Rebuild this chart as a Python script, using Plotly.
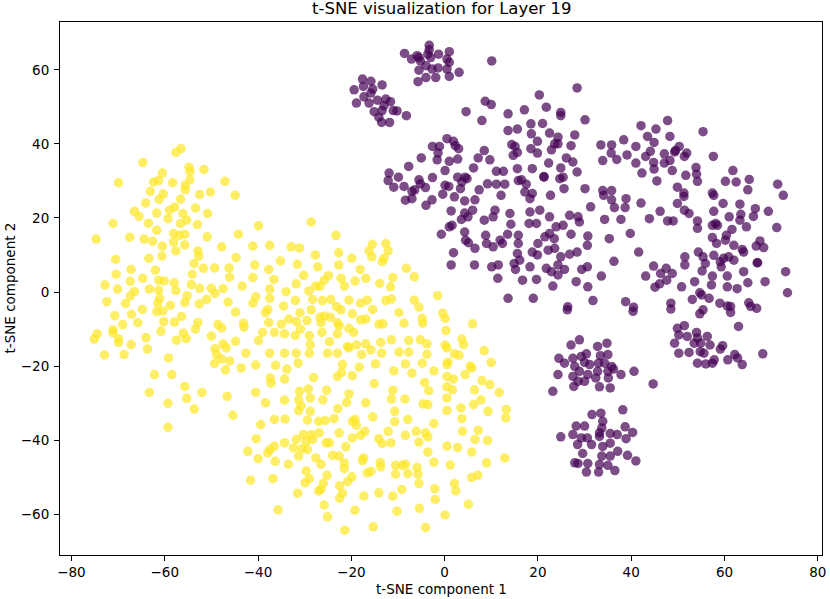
import plotly.graph_objects as go

# t-SNE coordinates, class 1 (yellow) and class 0 (purple)
YELLOW_UPPER = [
    (-57.6, 37.7), (-56.5, 38.7), (-64.7, 35), (-54.8, 33.7), (-54.6, 32.5), (-54.6, 30.3),
    (-51.6, 33.1), (-69.9, 29.5), (-62.4, 29.7), (-61.3, 30.1), (-60.5, 32.1), (-58.3, 29.5),
    (-55.6, 28.8), (-55.6, 27.6), (-47.1, 29.9), (-50.2, 27), (-52.5, 26.3), (-44.9, 26.1),
    (-63.1, 27.2), (-60.3, 26.5), (-61.2, 25), (-56.6, 25.1), (-64.1, 24), (-66.5, 21.8),
    (-65.5, 20.4), (-61.7, 21.3), (-59, 22.1), (-57.9, 22.9), (-59.3, 19.8), (-56.1, 21.2),
    (-55.3, 19.4), (-56.6, 18.5), (-53.4, 22.7), (-50.8, 21.2), (-53, 18.2), (-71.1, 18.5),
    (-63.5, 18.6), (-61.7, 16.7), (-74.7, 14.3), (-67.5, 14.8), (-64.4, 14.3), (-62.6, 13.7),
    (-58.1, 15.8), (-56.9, 15.3), (-55.7, 15.6), (-58.1, 13.5), (-60.5, 12.4), (-55.7, 12.7),
    (-57.6, 11.1), (-50.9, 14.9), (-44.2, 15.6), (-47.8, 12.2), (-41.1, 12.4), (-39.9, 17.9),
    (-52.9, 11.1), (-52.7, 9.7), (-53.7, 7.7), (-60.6, 9.7), (-63.4, 9.1), (-70.5, 8.8),
    (-44.7, 9.3), (-40.7, 7.3), (-51.7, 6.4), (-49.3, 6.5), (-46.2, 6.5), (-62, 5.9),
    (-67.2, 6.1), (-70.4, 4.8), (-54.1, 4.8),
]
YELLOW_LEFT = [
    (-64.7, 3.7), (-67.4, 2.9), (-72.8, 1.9), (-70.1, 0.8), (-66.5, 0.1), (-67.4, -1.1),
    (-63.3, 0.8), (-61.3, 3.2), (-60.1, 3), (-58, 2.5), (-57.6, 0.4), (-61.3, 0.5),
    (-61.1, -1.7), (-61.5, -3), (-61.7, -5.3), (-60.4, -5.1), (-72.4, -2.6), (-68.4, -3.1),
    (-64.8, -4.7), (-67.1, -6), (-70.7, -6.4), (-58.8, -3.6), (-55.2, -1), (-55.7, -2.8),
    (-54.3, 2), (-52.5, 1), (-50, 1), (-49.2, -0.4), (-47.5, 0.9), (-46.1, 4), (-43.4, 1.6),
    (-52.6, -3.2), (-51, -2), (-46.4, -2.7), (-41.1, -3), (-40.5, -1.3), (-44.8, -5.4),
    (-69, -8.8), (-65.8, -8.3), (-60.2, -8), (-60.8, -10.6), (-57.9, -8.1), (-56.4, -6.6),
    (-52.9, -8.2), (-53.4, -10), (-48.6, -8.8), (-47.8, -9.7), (-43.1, -8.4), (-43, -9.5),
    (-74.5, -11.3), (-75.1, -12.7), (-71.1, -10.2), (-71.1, -11), (-69.9, -12.6), (-69.9, -13.6),
    (-67.2, -14.2), (-64, -12.3), (-63.7, -15.4), (-72.9, -17), (-68.7, -16.9), (-57.5, -13),
    (-55.4, -12.6), (-56, -11.1), (-50, -11.9), (-59.2, -17.8), (-49.2, -15.3), (-47.5, -14),
    (-46.8, -15.1), (-48.9, -16.9), (-47.8, -18.1), (-46.1, -18.6), (-49.3, -19.3), (-47, -21),
    (-44.8, -13.3), (-42.6, -16.5), (-43.6, -20.5), (-40.5, -19.7), (-39.9, -13.1), (-62.2, -22.3),
    (-58.5, -22.3), (-63.3, -27.1), (-55.7, -25.5), (-55.3, -28.7), (-52, -27.1), (-59.3, -30),
    (-53.7, -31.6), (-46.6, -28.2), (-40.5, -27.1), (-45.4, -33.3), (-59.3, -36.5),
]
YELLOW_CENTER = [
    (-28.6, 18.9), (-23.3, 15.3), (-37.5, 12.6), (-32.9, 12.2), (-31.1, 11.9), (-27.7, 10),
    (-22.7, 10.6), (-19.9, 9.1), (-15.5, 12.9), (-12.6, 13.1), (-16.2, 11.1), (-15.6, 9.5),
    (-12.1, 11.1), (-13, 9.1), (-13.4, 8.2), (-35.2, 8.4), (-31.6, 7.5), (-37.7, 6.1),
    (-27.2, 6.8), (-22.7, 7.3), (-18.1, 6.1), (-8.2, 6.4), (-41.1, 3.9), (-36.6, 3.4),
    (-30.2, 4.5), (-25.8, 3.2), (-24.9, 4.4), (-26.7, 1.6), (-27.6, 1.6), (-22.2, 3.7),
    (-21.5, 1.6), (-19.2, 3), (-16.9, 3.7), (-13.9, 2.3), (-11.1, 3.9), (-11.6, 1.4),
    (-6.5, 4.1), (-1.5, -1), (-37.5, 0.8), (-34, 0.1), (-31.8, 2.2), (-29.1, 0.3),
    (-37.5, -1.7), (-37.9, -4.7), (-38.4, -5.6), (-34.5, -3.8), (-32, -2.3), (-31, -5.6),
    (-28.3, -2), (-28.6, -4.8), (-26.2, -2.3), (-24.4, -2), (-23.2, -3.9), (-22.2, -4.8),
    (-20.5, -2.2), (-18, -3), (-16.6, -2.2), (-15.4, -4.7), (-12.6, -2.3), (-11.4, -1.9),
    (-6.5, -2.2), (-5.5, -4.1), (-9.8, -5.5), (-19.8, -5.9), (-18, -7.5), (-16.9, -7.3),
    (-37.7, -8.2), (-35, -8.7), (-33.4, -7.3), (-31.8, -8), (-29.5, -7.7), (-30.9, -10),
    (-26.7, -6.8), (-25.8, -6.5), (-26.5, -8.3), (-24.5, -6.8), (-23, -8.3), (-22.6, -9.1),
    (-14.1, -8.7), (-13.2, -8.6), (-8.7, -8.4), (-4.8, -7.1), (-4.7, -8.4), (-0.4, -5.7),
    (0.1, -7.1), (0.3, -10.4), (-39, -10.9), (-36.5, -10.9), (-34.3, -11.3), (-32, -11.7),
    (-29, -11.8), (-28.8, -14.2), (-26.3, -10.9), (-24.7, -13.4), (-23, -11.3), (-20.5, -9.8),
    (-19.5, -10.9), (-20.8, -14.7), (-18.9, -14.3), (-16.9, -14), (-13.7, -13.6), (-11.4, -12.9),
    (-7.7, -13.1), (-5.2, -12.9), (-3.8, -14), (0.1, -14.3), (-15.8, -15.6), (-13.5, -16.5),
    (-17.8, -16.9), (-20.5, -15.1), (-37.5, -16.5), (-34.3, -16.5), (-31.8, -16.5), (-29, -16.5),
    (-25.1, -16.5), (-23, -16.5), (-9.8, -16.2), (-7.7, -16.2), (-3.8, -16.8),
    (6, -8.6), (3.7, -12.7), (4.1, -14.2), (0.5, -15.1), (2.1, -16.7), (3.1, -17.1),
    (8.5, -15.8), (0.7, -18.9), (0.5, -19.6), (5.5, -20),
]
YELLOW_LOWER = [
    (-36.2, -19.8), (-33.8, -20.8), (-37.4, -23.2), (-37.2, -24.6), (-34.3, -23.5), (-31.4, -19.2),
    (-21.9, -19.6), (-22.1, -21.7), (-23, -22.8), (-19.8, -22.6), (-18.3, -20.3), (-14.8, -19.4),
    (-28.1, -23.1), (-10.9, -21.3), (-8.4, -19.4), (-7, -21.9), (-4.8, -19.2), (-2.3, -21.3),
    (-4.3, -24.4), (-3.4, -26.6), (-15.1, -24.7), (0.5, -22.8), (1.9, -23.5), (0.5, -25.6),
    (1.7, -26.4), (0.5, -28.6), (4.4, -22.3), (5.8, -20.5), (8, -23.9), (9.7, -25), (10, -19),
    (6.4, -26.4), (7.8, -29.1), (6.2, -30.4), (11.7, -27.1), (-38.4, -29.9), (-39.4, -35.8),
    (-34.3, -29.2), (-31.1, -26.8), (-29.2, -26.2), (-28.8, -28.6), (-31.3, -29.1), (-30.8, -30.7),
    (-31.3, -32), (-28.8, -32.2), (-26.1, -29.1), (-25.3, -26.5), (-22.9, -31.5), (-21, -29.8),
    (-20.5, -27.5), (-16.9, -29.9), (-11.4, -28.9), (-11.1, -26.5), (-8.5, -28.9), (-10.7, -32.2),
    (-10.7, -35), (-7.9, -34.4), (-15.4, -33.7), (-4.6, -30.2), (-3.6, -30.4), (0.5, -32),
    (3.5, -31.3), (9.3, -32.2), (3.7, -34.2), (3.8, -37.6), (13.2, -31.7), (13.1, -34),
    (-36.5, -34.4), (-34.2, -34.3), (-29.4, -34.6), (-27, -34.9), (-25.6, -34.7), (-23.7, -34.2),
    (-19.8, -34.9), (-19.2, -34.4), (-18.9, -36), (-17.1, -37.6), (-19.8, -39.4), (-18, -38.7),
    (-12.1, -37.6), (-14.1, -39.6), (-13.4, -40.9), (-11.5, -40.7), (-8.4, -38.7), (-6.1, -37.6),
    (-4.1, -38), (-5.5, -40.5), (-3.6, -39.1), (-2.3, -35.5), (0.5, -41.6), (2.8, -42),
    (-3.6, -43.2), (-2.3, -45.9), (1.2, -46.7), (5.8, -43.2), (6.5, -39.8), (9.2, -40.1),
    (7.2, -37.3), (12.9, -44.8), (9, -46.1), (7.1, -49.5), (5.8, -50.1), (-40.4, -39.6),
    (-42.2, -43), (-40, -45), (-37.9, -43.4), (-37.4, -42.5), (-36.5, -41.6), (-36.3, -45.7),
    (-36.8, -50.4), (-41.6, -50.8), (-34.3, -40.7), (-32.4, -42.1), (-31.8, -39.8), (-30.3, -38.5),
    (-28.6, -38.5), (-26.9, -38), (-29.7, -40.3), (-28.3, -39.8), (-30.6, -42.3), (-29.4, -42.5),
    (-25.4, -40.7), (-24.7, -40.7), (-22.6, -38), (-21.2, -41.8), (-24, -44.1), (-22.6, -44.3),
    (-21.5, -46.1), (-21.5, -47.7), (-27.6, -44.8), (-26.5, -46.5), (-33.5, -46.5), (-31.3, -44.3),
    (-19.9, -49.9), (-20.8, -51.2), (-25.2, -49.5), (-26, -51.6), (-26.5, -53.2), (-27, -53.7),
    (-21.9, -54.3), (-22.5, -55.7), (-22.5, -52.3), (-17.4, -44.8), (-17.6, -45.5), (-16.6, -48.8),
    (-15.8, -48.4), (-13.8, -46), (-13.7, -47.2), (-10.5, -46.8), (-9.1, -46.8), (-8.4, -46.5),
    (-5.9, -47.4), (-5.7, -49.2), (-5.5, -51.7), (-10.5, -49.2), (-7.9, -49), (-14.1, -54.2),
    (-17.3, -55.1), (-9.2, -53.3), (-11.1, -55.1), (-2.1, -53.1), (-2, -56), (2.1, -51.7),
    (2.4, -53.7), (5.1, -57.3), (0.1, -60.2), (-5.4, -58.4), (-10.2, -59.2), (-15.3, -63.4),
    (-21.4, -64.3), (-25.1, -60.7), (-25.8, -57.5), (-19.2, -58.9), (-35.7, -58.8), (-31.5, -54.3),
    (-29, -50.4), (-4.1, -63.6), (-29.7, -48.3), (-29.9, -51.5),
]

PURPLE_TOP = [
    (-8.6, 64.4), (-7.1, 62.9), (-5.5, 63.3), (-5.2, 62.4), (-5.9, 63.8), (-3.3, 66.6),
    (-3.3, 65.4), (-3.6, 64.2), (-3, 63.3), (-1.3, 64.2), (1, 64.9), (0.5, 62.9), (1, 62),
    (-5.5, 59.9), (-4, 61.1), (-2.7, 60.2), (-1.4, 60.5), (0.5, 60.2), (3.1, 59.3), (-5.7, 56.8),
    (-4, 57.9), (-1.9, 57.9), (1, 58.2), (10.1, 62.4),
    (-17.6, 57.5), (-15.8, 56.9), (-19.4, 54.6), (-17.4, 55.5), (-15.4, 54.8), (-13.4, 55.9),
    (-17.3, 52.7), (-15.8, 53.7), (-18.9, 51), (-16.2, 51), (-14.4, 51.8), (-12.6, 52.1),
    (-11.6, 51.4), (-13, 50.3), (-13.4, 49), (-15.1, 48.7), (-11, 49), (-10.2, 48.9),
    (-8.2, 47.6), (-14.1, 47.2), (-13.5, 45.8), (-11.8, 45.8),
    (4.6, 48.7), (8, 46.3), (8.7, 51.5), (10, 50.6),
]
PURPLE_MAIN_LEFT = [
    (20.3, 53.2), (28.4, 55.1), (21.8, 49.9), (17.1, 49.2), (13.6, 48.1), (24.9, 48.5),
    (24.9, 47.6), (30.1, 46.5), (18.5, 45.4), (21, 45.5), (15.6, 44), (13.6, 43.6),
    (18.6, 42.7), (22.5, 42.9), (24.3, 41.8), (27.9, 42.4), (19.9, 40.7), (23.6, 40), (24.3, 40),
    (18.5, 38.7), (22.9, 38.4), (27.1, 39.5), (14.4, 39.8), (15.1, 39.3), (14.7, 36.9), (15.6, 37.7),
    (19.9, 37.5), (22.3, 34.8), (26.1, 36.2), (27.5, 35.1), (24.9, 33.5), (28.4, 32.4),
    (18.8, 33.3), (15.6, 33.3), (21.3, 31.2), (24.7, 30.6), (25.4, 31),
    (-2.6, 39.3), (-1.1, 39.3), (-1.4, 37.5), (-1.6, 35.7), (0.5, 41.4), (1.9, 40.7), (2.3, 39.5),
    (3, 38.7), (2.8, 35.9), (1, 35.3), (0.1, 32.8), (-5, 36.2), (-7.7, 33.9),
    (-11.9, 32.1), (-12.1, 30.1), (-10.9, 28.3), (-9.9, 31), (-8.7, 28.5), (-7, 27.2),
    (-5.5, 30.3), (-5.2, 29.2), (-6.4, 27.6), (-4.1, 28.2), (-2.6, 30.9), (-8.4, 24.8),
    (-7, 25.2), (-4, 23.4), (-2.7, 24.9), (-0.4, 26.4), (0.1, 28.8), (0.9, 28.5), (2.1, 25.7),
    (2.8, 31), (4.4, 31), (4.8, 30.6), (3.7, 29.7), (3.4, 27.9), (6.2, 33.5), (7.2, 36.2),
    (8.5, 38.2), (9.7, 35.7), (11.1, 32.6), (12.6, 32.6), (9.2, 29.2), (11.1, 29.1),
    (12.9, 29.1), (12.1, 26.1), (7.4, 27.6), (6.5, 24.9), (4.3, 24.6), (1.4, 21.9),
    (1.6, 18), (1, 17.6), (-0.7, 15.6), (4.3, 21.3), (5, 20.3), (6, 22.1), (3.6, 19.6),
    (4.3, 16.2), (4.5, 14), (5.1, 13.3), (6.5, 11.8), (1.9, 10.6), (1.4, 7.3), (6.4, 7.3),
    (8.8, 15.3), (9, 13.1), (10.8, 22.1), (10.4, 20.3), (8.5, 19.4), (10.4, 12.2), (11.9, 14),
    (12.4, 13.1), (13.5, 15.6), (14.2, 18.3), (14, 21.2), (15.8, 15.3), (15.8, 13.1),
    (15.6, 10.4), (16.1, 8.6), (14.9, 7.7), (11.5, 7.3), (10.1, 6.8), (11.4, 3.7), (15.2, 6.1),
    (16.7, 3.2), (18.3, 6.8), (18.8, 10.8), (20, 13.1), (19.9, 10), (21.5, 14.9), (22.5, 15.8),
    (23.5, 14.4), (22.2, 11.3), (23.6, 11.8), (24.9, 9.5), (25.7, 6.1), (24.3, 7.3), (21.8, 6.4),
    (22.9, 5.5), (24.3, 4.6), (23.2, 1.6), (19.7, 3.4), (19, -1.7), (13.6, -1.7), (18.3, 21.6),
    (18.1, 18.5), (20.4, 22.1), (19.7, 18.5), (22.5, 20.3), (23.9, 17.6), (25.4, 18),
    (26.8, 20.7), (27.1, 15.6), (28.9, 18.9), (28.6, 20.3), (30.7, 15.1), (30.6, 12.6),
    (28.4, 10.8), (26.8, 10.2), (29.4, 6.1), (30.6, 6.8), (28.2, 2.8), (30.7, 1.4), (31.8, -2.3),
    (26.4, -4), (31.3, 23), (30.1, 27.9), (25.6, 27.9), (22.7, 26.1), (17.2, 27), (18.8, 26.6),
    (18.3, 25.2), (15.8, 30.1), (16.5, 30.3), (17.5, 29.1), (21.3, 31),
    (26.3, -4.8), (40.4, -5.2),
]
PURPLE_MAIN_RIGHT = [
    (42.1, 44.9), (45.3, 44), (47.8, 46.3), (43.5, 42), (44.9, 40.4), (48.3, 42), (55.4, 43.3),
    (38.4, 41.1), (35.8, 39.7), (33.5, 39.7), (35.7, 37.5), (33.9, 35.5), (36.9, 35.8), (39.1, 37),
    (41, 39.3), (41, 34.8), (42.3, 32.1), (43.1, 36.6), (44.1, 38), (44.8, 35), (44.9, 33.2),
    (47.1, 37.3), (48.3, 35.5), (47.1, 34.8), (48.8, 32.8), (49.5, 38.2), (50.3, 39.3),
    (49.3, 37.8), (51.9, 37.5), (51.4, 36.6), (51.7, 31.5), (53.9, 33.6), (54, 31.8), (54.2, 29.9),
    (57.6, 36.6), (45.5, 30), (49.9, 28.3), (51.3, 26.7),
    (61.8, 32.8), (60.2, 29.9), (62.5, 29.7), (65.3, 30.4), (65, 27.6), (71.4, 29.1), (72.6, 26.1),
    (33.9, 27.4), (34.1, 26.1), (35.8, 27.4), (35.8, 24.9), (38.9, 25.2), (36.4, 22.8),
    (38.7, 22.8), (34.3, 19.6), (37.8, 19.6),
    (42.1, 24), (43.9, 19.8), (46.2, 21.8), (47.8, 19.2), (49, 19.2), (49.9, 23.9), (51.4, 22.1),
    (51.3, 25.8), (57.4, 26.7), (57.7, 26.1), (59.7, 23.9), (63.3, 23.7), (66.6, 22.5),
    (69.4, 21.8), (66.2, 20.4),
    (52.4, 21.2), (54.2, 19.2), (54.2, 17.2), (57.7, 21.8), (58.1, 18.5), (57.4, 18), (58.5, 18),
    (61, 20.3), (63.5, 21), (63.3, 19.4), (64.7, 17.6), (61.6, 16.9), (60.4, 15.3), (57.4, 14.7),
    (58.3, 13.1), (60.2, 14), (62, 12.6), (63.8, 11.5), (64.1, 10.8), (66.8, 12.4), (67.6, 13.8),
    (68.4, 12), (71.2, 17.4), (67, 7.9),
    (35.3, 14.4), (39.8, 15.8), (41.6, 10.8), (36.3, 8.3), (33.6, 4.3), (38.8, -2.6), (40.5, -4.1),
    (44.8, 7), (43.1, 4.3), (46.3, 5), (47.5, 6.4), (48.8, 5), (46.1, 2.2), (45.1, 1.3),
    (47.6, 3.2), (50.8, 1.4), (51.5, 9.5), (51.5, 7.3), (54.4, 10.8), (55.4, 9.5), (55.9, 7.7),
    (55.2, 5.7), (57.7, 9.9), (59.1, 8.2), (59.3, 6.8), (59.8, 9.1), (60.9, 9.5), (62, 8.6),
    (60.6, 4.3), (57.4, 4.3), (53.6, 2.8), (54.7, -0.2), (55.1, -0.8), (56.7, -1.7), (53.1, -2),
    (48.5, -3), (48.5, -4.6), (55.4, -4.8), (54.7, -5.9), (59, -3), (60.6, -3.8), (61.3, -3.9),
    (65.2, -2.9), (65.6, -3.9), (66.9, -4.4), (64.1, 5.5), (65, 2.5), (67.1, 7.9), (68.7, 2.8),
    (73.1, 5.5), (73.5, -0.2), (62.7, 0.9), (60.6, 1.4), (57.2, 1.9), (61.3, -5.5),
]
PURPLE_SATELLITES = [
    (49.9, -9.8), (51.4, -9.1), (50.2, -11.6), (49.3, -13.8), (50.2, -16.5), (52.4, -16.3),
    (52, -12), (54, -10.9), (54.2, -12.4), (53.5, -13.8), (54.9, -13.8), (54.8, -16.1),
    (56.3, -12), (56.9, -14.3), (55.6, -16.5), (54.2, -19.2), (56, -19.4), (57.4, -19.2),
    (57.8, -18.3), (59.1, -15.4), (59.6, -14.5), (60.7, -18.3), (62.2, -16.9), (62.8, -17.8),
    (63.8, -19.6), (63, -9.3), (68.2, -16.7),
    (27.1, -14.3), (28.9, -12.9), (24.5, -17.9), (25.7, -19.2), (27.5, -17.9), (27.9, -20.1),
    (29.3, -17.4), (30.4, -16.7), (30, -19), (31.1, -19.6), (28.9, -21.4), (27.5, -22.8),
    (30, -24.1), (28.6, -24.1), (27.7, -25.5), (24.3, -22.3), (23.2, -26.8), (30.7, -22.3),
    (32.8, -14.7), (34.8, -13.8), (33.4, -17.2), (35, -16.9), (33, -19.2), (34.3, -19.2),
    (32.8, -21.4), (35, -21.4), (35.8, -20.1), (36.2, -20.8), (32.4, -23.2), (35.1, -23.2),
    (33.2, -25.6), (35.5, -25.9), (37.8, -22.3), (40.6, -21.4), (44.7, -24.8),
    (31.6, -33.1), (33.5, -32.7), (38.2, -31.8), (33.9, -34.9), (33.7, -36.7), (33.2, -38),
    (28.2, -36.2), (30, -36.2), (27.5, -38.5), (24.9, -39.1), (29.3, -39.4), (30.6, -39.4),
    (31.5, -41.2), (28.5, -41.2), (29.6, -43.6), (33.2, -39), (33.9, -41.7), (35.5, -38.2),
    (37, -38.5), (38.7, -36.4), (40.3, -37.9), (38.9, -39.6), (35.5, -40.8), (37.1, -43),
    (35.5, -44.3), (33.7, -44.3), (33.2, -46.6), (35, -46.8), (30.7, -46.3), (27.9, -46.1),
    (28.6, -46.3), (30.4, -48.6), (33, -48.6), (36.5, -48.2), (39.2, -44.1), (41, -45.6),
]

YELLOW = YELLOW_UPPER + YELLOW_LEFT + YELLOW_CENTER + YELLOW_LOWER
PURPLE = PURPLE_TOP + PURPLE_MAIN_LEFT + PURPLE_MAIN_RIGHT + PURPLE_SATELLITES

VIRIDIS_LOW = "#440154"
VIRIDIS_HIGH = "#fde725"
FONT = "DejaVu Sans, sans-serif"

fig = go.Figure()
for pts, color in ((PURPLE, VIRIDIS_LOW), (YELLOW, VIRIDIS_HIGH)):
    fig.add_scatter(
        x=[p[0] for p in pts], y=[p[1] for p in pts], mode="markers",
        marker={"color": color, "size": 9.5, "opacity": 0.7, "line": {"width": 0}},
        showlegend=False, hoverinfo="skip",
    )

axis = dict(
    showline=True, mirror=True, linecolor="black", linewidth=1.1,
    ticks="outside", ticklen=5, tickwidth=1.1, tickcolor="black",
    showgrid=False, zeroline=False, tickfont={"size": 13.5, "color": "black"},
    ticklabeloverflow="allow",
)
fig.update_xaxes(range=[-82.45, 80.9], tickvals=[-80, -60, -40, -20, 0, 20, 40, 60, 80],
                 ticklabelstandoff=0, **axis)
fig.update_yaxes(range=[-71.0, 72.9], tickvals=[-60, -40, -20, 0, 20, 40, 60],
                 ticklabelstandoff=2, **axis)

fig.add_annotation(text="t-SNE visualization for Layer 19", xref="paper", yref="paper",
                   x=0.5, y=1, yshift=14, yanchor="middle", showarrow=False,
                   font={"size": 16.5, "color": "black"})
fig.add_annotation(text="t-SNE component 1", xref="paper", yref="paper",
                   x=0.5, y=0, yshift=-34, yanchor="middle", showarrow=False,
                   font={"size": 13.5, "color": "black"})
fig.add_annotation(text="t-SNE component 2", xref="paper", yref="paper",
                   x=0, y=0.5, xshift=-51, xanchor="center", textangle=-90, showarrow=False,
                   font={"size": 13.5, "color": "black"})

fig.update_layout(
    width=830, height=599,
    margin={"l": 60, "r": 4, "t": 22, "b": 44},
    paper_bgcolor="white", plot_bgcolor="white",
    font={"family": FONT, "color": "black"},
)
# the page body has a default 8px margin; drop it so the 830x599 figure fills the window
fig.write_html("out.html", config={"displayModeBar": False},
               post_script="document.body.style.margin='0';")
